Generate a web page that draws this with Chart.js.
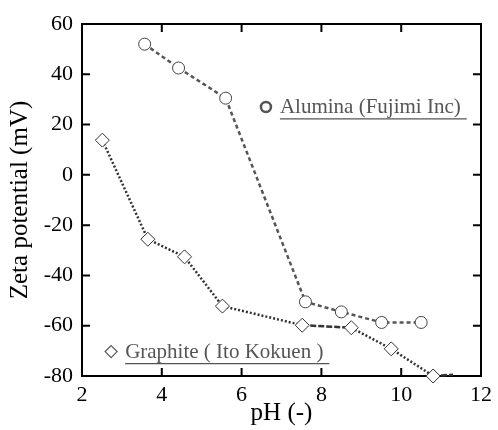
<!DOCTYPE html>
<html>
<head>
<meta charset="utf-8">
<script src="https://cdn.jsdelivr.net/npm/chart.js@4.4.1/dist/chart.umd.min.js"></script>
<style>
  html, body { margin: 0; padding: 0; background: #fff; }
  #wrap { width: 498px; height: 430px; }
</style>
</head>
<body>
<div id="wrap"><canvas id="zetaChart" width="498" height="430"></canvas></div>
<script>
// pH values and zeta potentials
var aluminaPH   = [3.57, 4.42, 5.60, 7.60, 8.50, 9.51, 10.50];
var aluminaZeta = [52.0, 42.5, 30.5, -50.5, -54.5, -58.7, -58.7];

var graphitePH   = [2.51, 3.65, 4.57, 5.52, 7.52, 8.75, 9.75, 10.80, 11.30];
var graphiteZeta = [13.8, -25.6, -32.6, -52.2, -59.8, -60.8, -69.2, -80.0, -79.5];

var xTicks = [2, 4, 6, 8, 10, 12];
var yTicks = [-80, -60, -40, -20, 0, 20, 40, 60];

var legendLabels = ["Alumina (Fujimi Inc)", "Graphite ( Ito Kokuen )"];
// where the in-plot labels sit, in data units
var legendAnchors = [[6.61, 27.0], [2.73, -70.3]];

var serif = "'Liberation Serif', 'Times New Roman', serif";

function toPoints(xs, ys) {
    var pts = [];
    for (var i = 0; i < xs.length; i++) pts.push({ x: xs[i], y: ys[i] });
    return pts;
}

// frame with inward ticks on all four sides
var framePlugin = {
    id: "frame",
    beforeDatasetsDraw: function(chart) {
        var c = chart.ctx, a = chart.chartArea;
        var xs = chart.scales.x, ys = chart.scales.y;
        var len = 8;
        c.save();
        c.strokeStyle = "#000";
        c.lineWidth = 2;
        c.strokeRect(a.left, a.top, a.right - a.left, a.bottom - a.top);
        c.beginPath();
        xTicks.forEach(function(v) {
            var px = xs.getPixelForValue(v);
            c.moveTo(px, a.bottom); c.lineTo(px, a.bottom - len);
            c.moveTo(px, a.top); c.lineTo(px, a.top + len);
        });
        yTicks.forEach(function(v) {
            var py = ys.getPixelForValue(v);
            c.moveTo(a.left, py); c.lineTo(a.left + len, py);
            c.moveTo(a.right, py); c.lineTo(a.right - len, py);
        });
        c.stroke();
        c.restore();
    }
};

// the two labelled markers inside the plot
var notesPlugin = {
    id: "notes",
    afterDatasetsDraw: function(chart) {
        var c = chart.ctx;
        var xs = chart.scales.x, ys = chart.scales.y;
        c.save();
        c.font = "21px " + serif;
        c.textBaseline = "middle";
        c.textAlign = "left";
        legendLabels.forEach(function(txt, i) {
            var px = xs.getPixelForValue(legendAnchors[i][0]);
            var py = ys.getPixelForValue(legendAnchors[i][1]);
            c.strokeStyle = "#555";
            c.fillStyle = "#fff";
            c.beginPath();
            if (i === 0) {
                c.lineWidth = 2.5;
                c.arc(px, py, 5, 0, Math.PI * 2);
            } else {
                c.lineWidth = 1.2;
                c.moveTo(px, py - 6); c.lineTo(px + 6, py);
                c.lineTo(px, py + 6); c.lineTo(px - 6, py);
                c.closePath();
            }
            c.fill();
            c.stroke();
            var tx = px + 14;
            c.fillStyle = "#555";
            c.fillText(txt, tx, py + 1);
            var w = c.measureText(txt).width;
            c.lineWidth = 1.2;
            c.beginPath();
            c.moveTo(tx, py + 12);
            c.lineTo(tx + w + 6, py + 12);
            c.stroke();
        });
        c.restore();
    }
};

var data = {
    datasets: [
        {
            label: "Alumina (Fujimi Inc)",
            data: toPoints(aluminaPH, aluminaZeta),
            borderColor: "#555",
            borderWidth: 2.5,
            borderDash: [4, 3],
            pointStyle: "circle",
            pointRadius: 6,
            pointBackgroundColor: "#fff",
            pointBorderColor: "#444",
            pointBorderWidth: 1,
            clip: false
        },
        {
            label: "Graphite ( Ito Kokuen )",
            data: toPoints(graphitePH, graphiteZeta),
            borderColor: "#333",
            borderWidth: 2.5,
            borderDash: [2, 2],
            segment: {
                borderDash: function(ctx) {
                    return (ctx.p0DataIndex === 4 || ctx.p0DataIndex === 7) ? [6, 2] : undefined;
                }
            },
            pointStyle: "rectRot",
            pointRadius: [7, 7, 7, 7, 7, 7, 7, 7, 0],
            pointBackgroundColor: "#fff",
            pointBorderColor: "#333",
            pointBorderWidth: 1,
            clip: false
        }
    ]
};

var options = {
    responsive: false,
    animation: false,
    layout: { padding: { top: 24, right: 8, left: 0, bottom: 0 } },
    plugins: {
        legend: { display: false },
        tooltip: { enabled: false }
    },
    scales: {
        x: {
            type: "linear",
            min: 2,
            max: 12,
            afterFit: function(s) { s.height = 54; },
            afterBuildTicks: function(s) { s.ticks = xTicks.map(function(v) { return { value: v }; }); },
            grid: { display: false, drawTicks: false },
            border: { display: false },
            ticks: { color: "#000", font: { family: serif, size: 22 }, padding: 6, maxRotation: 0 },
            title: { display: true, text: "pH (-)", color: "#000", font: { family: serif, size: 25 }, padding: { top: 2, bottom: 2 } }
        },
        y: {
            type: "linear",
            min: -80,
            max: 60,
            afterFit: function(s) { s.width = 82; },
            afterBuildTicks: function(s) { s.ticks = yTicks.map(function(v) { return { value: v }; }); },
            grid: { display: false, drawTicks: false },
            border: { display: false },
            ticks: { color: "#000", font: { family: serif, size: 22 }, padding: 9 },
            title: { display: true, text: "Zeta potential (mV)", color: "#000", font: { family: serif, size: 25 }, padding: { top: 5, bottom: 5 } }
        }
    }
};

new Chart(document.getElementById("zetaChart"), {
    type: "line",
    data: data,
    options: options,
    plugins: [framePlugin, notesPlugin]
});
</script>
</body>
</html>
